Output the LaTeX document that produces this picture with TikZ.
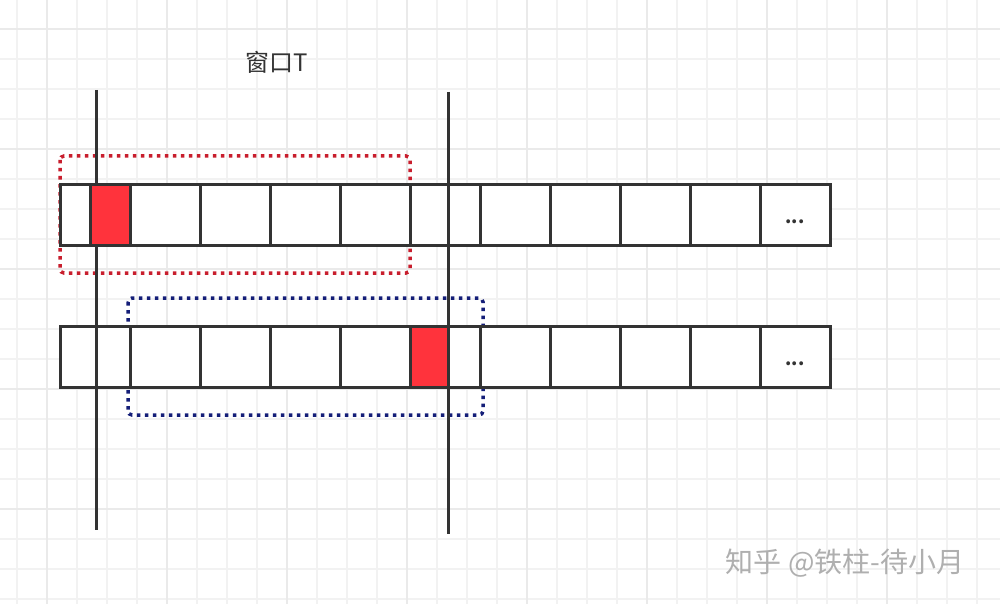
\documentclass[tikz,border=0pt]{standalone}
\usepackage{fontspec}
\setmainfont{Noto Sans CJK SC}
\definecolor{gridminor}{RGB}{242,242,242}
\definecolor{gridmajor}{RGB}{234,234,234}
\definecolor{ink}{RGB}{51,51,51}
\definecolor{cellred}{RGB}{255,51,60}
\definecolor{dotred}{RGB}{200,30,45}
\definecolor{dotblue}{RGB}{20,30,120}
\definecolor{wmgray}{RGB}{175,175,175}
\begin{document}
\begin{tikzpicture}[x=1pt,y=-1pt,
  cellline/.style={draw=ink,line width=3pt},
  redcell/.style={draw=ink,fill=cellred,line width=3pt},
  longline/.style={draw=ink,line width=3pt},
  dotbox/.style={line width=3.5pt,dash pattern=on 3.5pt off 4.5pt,rounded corners=4pt},
  label/.style={inner sep=0pt,text=ink}]
\useasboundingbox (0,0) rectangle (1000,604);
\fill[white] (0,0) rectangle (1000,604);
% grid
\foreach \x in {17,47,...,1000} \draw[gridminor,line width=1.2pt] (\x,0) -- (\x,604);
\foreach \y in {29,59,...,604} \draw[gridminor,line width=1.2pt] (0,\y) -- (1000,\y);
\foreach \x in {47,167,...,1000} \draw[gridmajor,line width=1.5pt] (\x,0) -- (\x,604);
\foreach \y in {29,149,...,604} \draw[gridmajor,line width=1.5pt] (0,\y) -- (1000,\y);
% dotted windows
\draw[dotbox,draw=dotred] (60,156) rectangle (410,273);
\draw[dotbox,draw=dotblue] (128,298) rectangle (483,415);
% top row
\filldraw[cellline,fill=white] (60,184) rectangle (830,245);
\foreach \x in {200,270,340,410,480,550,620,690,760} \draw[cellline] (\x,184) -- (\x,245);
% bottom row
\filldraw[cellline,fill=white] (60,326) rectangle (830,387);
\foreach \x in {130,200,270,340,410,480,550,620,690,760} \draw[cellline] (\x,326) -- (\x,387);
% window boundaries
\coordinate (l1) at (96,90);
\coordinate (l2) at (96,530);
\coordinate (r1) at (448,92);
\coordinate (r2) at (448,534);
\draw[longline] (l1) -- (l2);
\draw[longline] (r1) -- (r2);
% red cells
\draw[redcell] (90,184) rectangle (130,245);
\draw[redcell] (410,326) rectangle (448,387);
% texts
\node[label,font=\fontsize{24}{24}\selectfont] (title) at (277,62) {窗口T};
\node[label,font=\fontsize{18}{18}\selectfont\bfseries] (dots1) at (795,222) {...};
\node[label,font=\fontsize{18}{18}\selectfont\bfseries] (dots2) at (795,364) {...};
\node[label,text=wmgray,font=\fontsize{28}{28}\selectfont] (wm) at (845,563) {知乎 @铁柱-待小月};
\end{tikzpicture}
\end{document}
